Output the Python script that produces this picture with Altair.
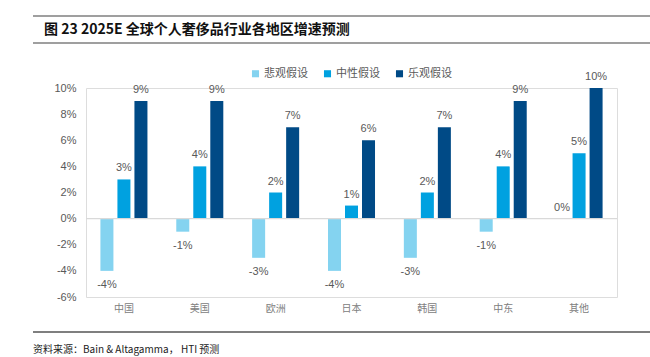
import altair as alt
import pandas as pd

regions = ["中国", "美国", "欧洲", "日本", "韩国", "中东", "其他"]
scenarios = ["悲观假设", "中性假设", "乐观假设"]
pessimistic = [-4, -1, -3, -4, -3, -1, 0]
neutral = [3, 4, 2, 1, 2, 4, 5]
optimistic = [9, 9, 7, 6, 7, 9, 10]
colors = ["#84D3F0", "#00A1E0", "#004A86"]
y_ticks = [-6, -4, -2, 0, 2, 4, 6, 8, 10]

title_text = "图 23  2025E 全球个人奢侈品行业各地区增速预测"
source_text = "资料来源：Bain & Altagamma， HTI 预测"

rows = []
for i, r in enumerate(regions):
    for s, vals in zip(scenarios, [pessimistic, neutral, optimistic]):
        rows.append({"region": r, "scenario": s, "value": vals[i],
                     "label": f"{vals[i]}%"})
df = pd.DataFrame(rows)

W, H = 531, 209
num_font = "Liberation Sans"
cjk_font = "Noto Sans CJK SC"

x_axis = alt.Axis(title=None, labelAngle=0, domain=False, ticks=False, grid=False,
                  labelFont=cjk_font, labelFontSize=10, labelColor="#808080",
                  labelPadding=6)
y_axis = alt.Axis(title=None, values=y_ticks, labelExpr="datum.value + '%'",
                  domain=False, ticks=False, grid=False, labelOverlap=False,
                  labelFont=num_font, labelFontSize=11, labelColor="#595959",
                  labelPadding=10)
x_scale = alt.Scale(paddingInner=0.38, paddingOuter=0.19)
y_scale = alt.Scale(domain=[-6, 10], nice=False, zero=True)

x_enc = alt.X("region:N", sort=regions, scale=x_scale, axis=x_axis)
y_enc = alt.Y("value:Q", scale=y_scale, axis=y_axis)
xoff = alt.XOffset("scenario:N", sort=scenarios,
                   scale=alt.Scale(paddingInner=0.235, paddingOuter=0))

base = alt.Chart(df)

bars = base.mark_bar().encode(
    x=x_enc,
    xOffset=xoff,
    y=y_enc,
    color=alt.Color("scenario:N", sort=scenarios,
                    scale=alt.Scale(domain=scenarios, range=colors),
                    legend=alt.Legend(title=None, orient="none", direction="horizontal",
                                      legendX=164, legendY=-20,
                                      symbolType="square", symbolSize=50,
                                      symbolStrokeWidth=0, labelFont=cjk_font,
                                      labelFontSize=11, labelColor="#595959",
                                      columnPadding=14, labelOffset=3)),
)

zero = alt.Chart(pd.DataFrame({"value": [0]})).mark_rule(
    color="#D9D9D9", strokeWidth=1.2).encode(y=y_enc)

pos_labels = base.transform_filter("datum.value >= 0").mark_text(
    baseline="bottom", dy=-6, font=num_font, fontSize=11, color="#595959").encode(
    x=x_enc, xOffset=xoff, y=y_enc, text="label:N")

neg_labels = base.transform_filter("datum.value < 0").mark_text(
    baseline="top", dy=8, font=num_font, fontSize=11, color="#595959").encode(
    x=x_enc, xOffset=xoff, y=y_enc, text="label:N")

one = alt.Chart(pd.DataFrame({"t": [title_text], "s": [source_text]}))

title = one.mark_text(align="left", baseline="middle", font=cjk_font, fontSize=14,
                      fontWeight="bold", color="#111111").encode(
    x=alt.value(-42), y=alt.value(-58), text="t:N")
source = one.mark_text(align="left", baseline="middle", font=cjk_font, fontSize=10,
                       color="#222222").encode(
    x=alt.value(-53), y=alt.value(54 + H - 1), text="s:N")

line_top = one.mark_rule(color="#7F7F7F", strokeWidth=1.5).encode(
    x=alt.value(-53), x2=alt.value(W + 33), y=alt.value(-72), y2=alt.value(-72))
line_mid = one.mark_rule(color="#7F7F7F", strokeWidth=1.5).encode(
    x=alt.value(-53), x2=alt.value(W + 33), y=alt.value(-45), y2=alt.value(-45))
line_bot = one.mark_rule(color="#555555", strokeWidth=1.5).encode(
    x=alt.value(-53), x2=alt.value(W + 33), y=alt.value(35 + H), y2=alt.value(35 + H))

chart = alt.layer(bars, zero, pos_labels, neg_labels, title, source,
                  line_top, line_mid, line_bot).properties(
    width=W, height=H,
    autosize=alt.AutoSizeParams(type="none"),
    padding={"left": 86, "top": 88, "right": 33, "bottom": 60},
).configure_view(
    strokeWidth=0, stroke="transparent", strokeOpacity=0
).configure_axis(
    domain=False, ticks=False, grid=False,
    domainOpacity=0, domainWidth=0, gridOpacity=0, tickOpacity=0
).configure_axisY(
    domain=False, domainOpacity=0
).configure(background="white")

chart.save("out.html", embed_options={"renderer": "svg", "actions": False})
